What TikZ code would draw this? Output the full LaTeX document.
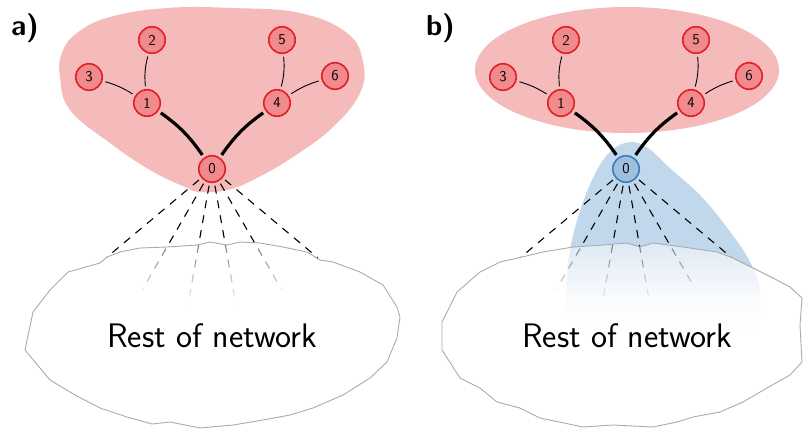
\documentclass[tikz,border=0pt]{standalone}
\usetikzlibrary{calc,fadings}
\definecolor{redblob}{HTML}{F5BABA}
\definecolor{nodefill}{HTML}{F08A8C}
\definecolor{nodeborder}{HTML}{E21F26}
\definecolor{blueblob}{HTML}{C1D7EB}
\definecolor{bluefill}{HTML}{9EBFDD}
\definecolor{blueborder}{HTML}{3B7EBF}
\definecolor{netgray}{HTML}{ABABAB}
\tikzfading[name=netfade, top color=transparent!55, bottom color=transparent!8]
\tikzfading[name=netfadelow, top color=transparent!8, bottom color=transparent!0]
\begin{document}
\begin{tikzpicture}[x=1pt,y=-1pt,
  nd/.style={circle, draw=nodeborder, fill=nodefill, line width=1.6pt, minimum size=26.5pt, inner sep=0pt, font=\sffamily\fontsize{15}{15}\selectfont},
  azero/.style={},
  bzero/.style={draw=blueborder, fill=bluefill},
  thinedge/.style={line width=0.9pt, shorten >=3pt, shorten <=3pt},
  thickedge/.style={line width=3.2pt, shorten >=3pt, shorten <=3pt},
  dashline/.style={line width=1.1pt, dash pattern=on 8pt off 7pt},
  netline/.style={draw=netgray, line width=0.9pt, line join=round},
  panellabel/.style={font=\sffamily\bfseries\fontsize{29}{29}\selectfont, anchor=base west, inner sep=0pt},
  nettext/.style={font=\sffamily\fontsize{34}{34}\selectfont, anchor=base, inner sep=0pt}
]
\useasboundingbox (0,0) rectangle (803,429);

% red blob a
\fill[redblob] plot[smooth cycle, tension=0.7] coordinates {
 (200,192) (185,187) (150,170) (110,143) (70,110) (60,77) (62,53) (77,33) (110,17) (167,8) (233,8) (300,13) (347,33) (363,62) (360,93) (333,127) (293,157) (253,180) (227,190)};
% red ellipse b
\fill[redblob] (627,70) ellipse [x radius=152, y radius=63];
% blue blob b
\fill[blueblob] plot[smooth cycle, tension=0.6] coordinates {
 (630,142) (648,148) (672,170) (700,195) (725,225) (748,258) (760,290) (757,325) (735,350) (690,362) (630,364) (590,350) (570,325) (566,290) (571,245) (582,205) (597,170) (612,150)};

% nodes
\foreach \p/\dx in {a/0,b/414}{
  \node[nd, \p zero] (\p0) at (212+\dx,169) {0};
  \node[nd] (\p1) at (147+\dx,103) {1};
  \node[nd] (\p2) at (152+\dx,40) {2};
  \node[nd] (\p3) at (89+\dx,77) {3};
  \node[nd] (\p4) at (277+\dx,103) {4};
  \node[nd] (\p5) at (282+\dx,40) {5};
  \node[nd] (\p6) at (335+\dx,76) {6};
  \draw[thinedge] (\p1) to[bend left=10] (\p2);
  \draw[thinedge] (\p1) to[bend right=8] (\p3);
  \draw[thinedge] (\p4) to[bend right=10] (\p5);
  \draw[thinedge] (\p4) to[bend left=8] (\p6);
  \draw[thickedge] (\p0) to[bend right=10] (\p1);
  \draw[thickedge] (\p0) to[bend left=10] (\p4);
  \foreach \ang in {140,120,100,80,60,40}{
    \draw[dashline] ($(\p0)+(\ang:17)$) -- ($(\p0)+(\ang:138)$);
  }
}

% fading overlays inside network blobs
\begin{scope}
\clip plot coordinates {(107,257) (100,263) (68,272) (50,290) (33,312) (25,350) (35,362) (50,380) (75,395) (100,408) (127,417) (152,424) (170,422) (200,428) (233,425) (263,420) (290,415) (313,408) (343,395) (370,378) (387,362) (397,338) (400,317) (397,307) (383,285) (360,272) (333,262) (320,260) (307,252) (283,247) (260,243) (240,242) (227,245) (210,242) (197,245) (167,247) (140,248) (120,252)} -- cycle;
\fill[white, path fading=netfade] (0,240) rectangle (410,298);
\fill[white, path fading=netfadelow] (0,297) rectangle (410,330);
\fill[white] (0,329) rectangle (410,430);
\end{scope}
\begin{scope}
\clip plot coordinates {(522,257) (500,262) (480,272) (457,292) (442,322) (442,350) (460,378) (480,388) (497,402) (520,408) (540,418) (583,427) (613,425) (653,427) (677,422) (693,417) (720,412) (743,402) (767,388) (790,375) (802,362) (800,325) (802,298) (790,287) (773,278) (753,268) (733,258) (717,252) (683,247) (653,243) (640,247) (627,243) (603,245) (573,247) (543,252)} -- cycle;
\fill[white, path fading=netfade] (410,240) rectangle (803,298);
\fill[white, path fading=netfadelow] (410,297) rectangle (803,330);
\fill[white] (410,329) rectangle (803,430);
\end{scope}

% network outlines
\draw[netline] plot coordinates {(107,257) (100,263) (68,272) (50,290) (33,312) (25,350) (35,362) (50,380) (75,395) (100,408) (127,417) (152,424) (170,422) (200,428) (233,425) (263,420) (290,415) (313,408) (343,395) (370,378) (387,362) (397,338) (400,317) (397,307) (383,285) (360,272) (333,262) (320,260) (307,252) (283,247) (260,243) (240,242) (227,245) (210,242) (197,245) (167,247) (140,248) (120,252)} -- cycle;
\draw[netline] plot coordinates {(522,257) (500,262) (480,272) (457,292) (442,322) (442,350) (460,378) (480,388) (497,402) (520,408) (540,418) (583,427) (613,425) (653,427) (677,422) (693,417) (720,412) (743,402) (767,388) (790,375) (802,362) (800,325) (802,298) (790,287) (773,278) (753,268) (733,258) (717,252) (683,247) (653,243) (640,247) (627,243) (603,245) (573,247) (543,252)} -- cycle;

\node[nettext] (neta) at (212,347) {Rest of network};
\node[nettext] (netb) at (627,347) {Rest of network};

\node[panellabel] (la) at (11,35) {a)};
\node[panellabel] (lb) at (426,35) {b)};
\end{tikzpicture}
\end{document}
